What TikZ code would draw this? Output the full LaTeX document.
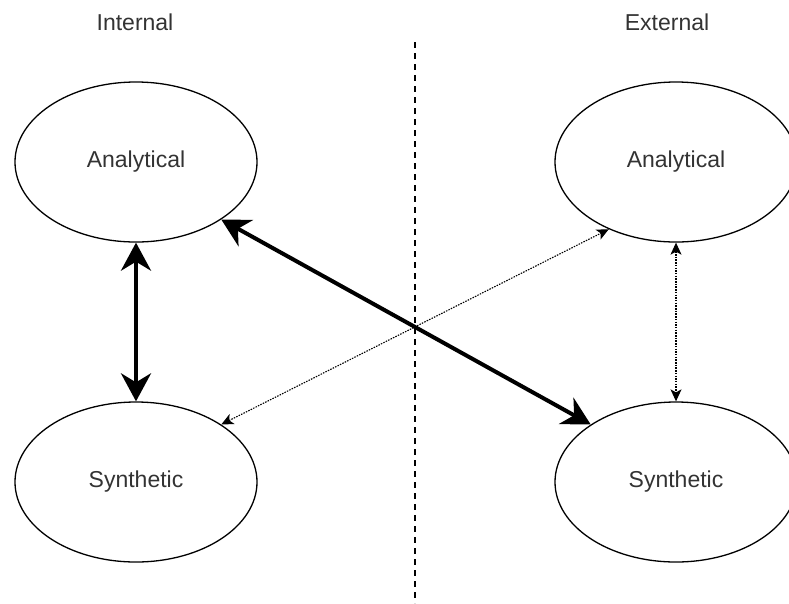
\documentclass[tikz,border=0pt]{standalone}
\usepackage{fontspec}
\setmainfont{Liberation Sans}
\usetikzlibrary{arrows.meta,shapes.geometric}
\begin{document}
\begin{tikzpicture}[x=1pt,y=-1pt,
  oval/.style={draw=black, line width=1.3pt, ellipse, minimum width=242pt, minimum height=160pt, inner sep=0pt, font=\fontsize{23}{27}\selectfont, text=black!80},
  lbl/.style={font=\fontsize{23}{27}\selectfont, text=black!80},
  strong/.style={line width=4pt, {Stealth[length=28pt,width=30pt,inset=9pt]}-{Stealth[length=28pt,width=30pt,inset=9pt]}},
  weak/.style={line width=1.1pt, dash pattern=on 1.5pt off 1.2pt, {Stealth[length=12pt,width=11pt,inset=3pt]}-{Stealth[length=12pt,width=11pt,inset=3pt]}}
]
\useasboundingbox (0,0) rectangle (789,603);
\clip (0,0) rectangle (789,603);
\node[lbl] (int) at (135,22) {Internal};
\node[lbl] (ext) at (667,22) {External};
\coordinate (dtop) at (415,42);
\coordinate (dbot) at (415,603);
\draw[line width=1.4pt, dash pattern=on 6pt off 5pt] (dtop) -- (dbot);
\node[oval] (a1) at (136,162) {Analytical};
\node[oval] (s1) at (136,482) {Synthetic};
\node[oval] (a2) at (676,162) {Analytical};
\node[oval] (s2) at (676,482) {Synthetic};
\draw[strong] (a1.south) -- (s1.north);
\draw[strong] (a1.-34) -- (s2.146);
\draw[weak] (s1.34) -- (a2.225);
\draw[weak] (a2.south) -- (s2.north);
\end{tikzpicture}
\end{document}
